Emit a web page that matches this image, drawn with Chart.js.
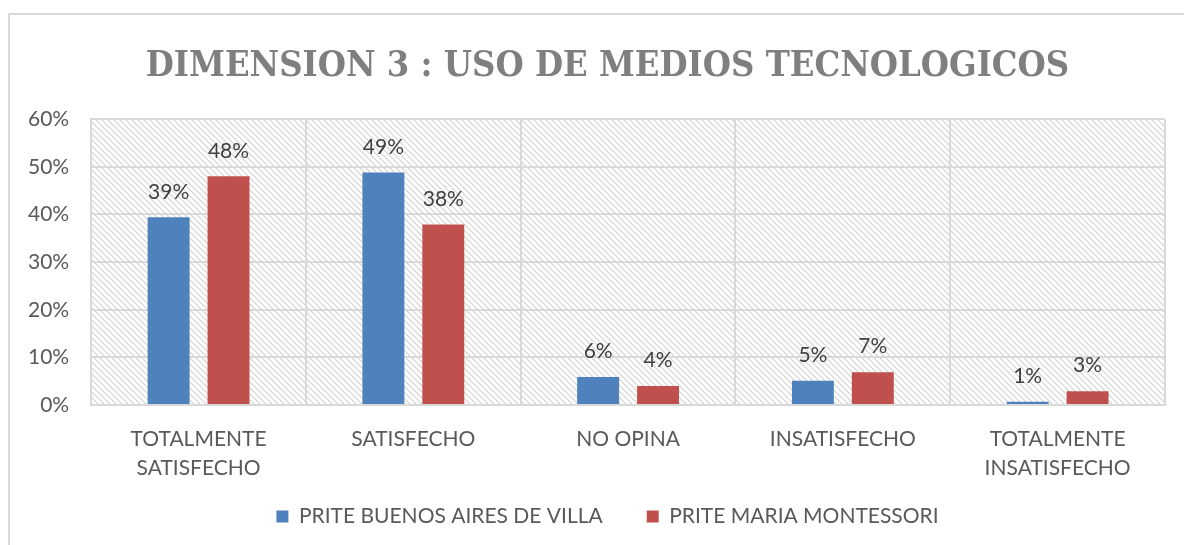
<!DOCTYPE html>
<html>
<head>
<meta charset="utf-8">
<script src="https://cdn.jsdelivr.net/npm/chart.js@4"></script>
<style>
  body { margin: 0; background: #fff; }
  #wrap { width: 1184px; height: 545px; }
</style>
</head>
<body>
<div id="wrap"><canvas id="myChart" width="1184" height="545"></canvas></div>
<script>
// datos del grafico
var categorias = [
  ["TOTALMENTE", "SATISFECHO"],
  "SATISFECHO",
  "NO OPINA",
  "INSATISFECHO",
  ["TOTALMENTE", "INSATISFECHO"]
];
var buenos_aires = [39.4, 48.8, 5.9, 5.1, 0.7];
var montessori = [48, 37.9, 4, 6.9, 2.9];
var etiquetas_buenos_aires = ["39%", "49%", "6%", "5%", "1%"];
var etiquetas_montessori = ["48%", "38%", "4%", "7%", "3%"];
var serie_nombres = ["PRITE BUENOS AIRES DE VILLA", "PRITE MARIA MONTESSORI"];

var gris = "#595959";
var fuente = "Lato, 'Open Sans', sans-serif";

// patron rayado del fondo
function patronRayado(ctx) {
  var n = 6;
  var t = document.createElement("canvas");
  t.width = n; t.height = n;
  var c = t.getContext("2d");
  c.fillStyle = "#ffffff";
  c.fillRect(0, 0, n, n);
  c.strokeStyle = "#d3d3d3";
  c.lineWidth = 1.2;
  c.beginPath();
  c.moveTo(-1, -1); c.lineTo(n + 1, n + 1);
  c.moveTo(-1, n - 1); c.lineTo(1, n + 1);
  c.moveTo(n - 1, -1); c.lineTo(n + 1, 1);
  c.stroke();
  return ctx.createPattern(t, "repeat");
}

var fondo = {
  id: "fondo",
  beforeDraw: function (chart) {
    var ctx = chart.ctx, a = chart.chartArea;
    ctx.save();
    ctx.fillStyle = "#fff";
    ctx.fillRect(0, 0, chart.width, chart.height);
    ctx.strokeStyle = "#d9d9d9";
    ctx.lineWidth = 2;
    ctx.strokeRect(9, 14, chart.width + 20, chart.height + 20);
    ctx.fillStyle = patronRayado(ctx);
    ctx.fillRect(a.left, a.top, a.right - a.left, a.bottom - a.top);
    ctx.restore();
  }
};

var etiquetas = {
  id: "etiquetas",
  afterDatasetsDraw: function (chart) {
    var ctx = chart.ctx;
    var textos = [etiquetas_buenos_aires, etiquetas_montessori];
    ctx.save();
    ctx.font = "21px " + fuente;
    ctx.fillStyle = "#404040";
    ctx.textAlign = "center";
    ctx.textBaseline = "bottom";
    chart.data.datasets.forEach(function (ds, i) {
      chart.getDatasetMeta(i).data.forEach(function (bar, j) {
        ctx.fillText(textos[i][j], bar.x, bar.y - 15);
      });
    });
    ctx.restore();
  }
};

// la leyenda usa padding grande para separar items, pero se recorta en alto;
// titulo y leyenda se centran un poco a la derecha, como en el original
var ajusteCajas = {
  id: "ajusteCajas",
  beforeLayout: function (chart) {
    var lg = chart.legend, tt = chart.titleBlock;
    if (lg && !lg._ajustada) {
      lg._ajustada = true;
      var fit = lg.fit, draw = lg.draw;
      lg.fit = function () { fit.call(this); this.height -= 39; };
      lg.draw = function () {
        this.top -= 41; this.left += 22; this.right += 22;
        draw.call(this);
        this.top += 41; this.left -= 22; this.right -= 22;
      };
    }
    if (tt && !tt._ajustada) {
      tt._ajustada = true;
      var drawT = tt.draw;
      tt.draw = function () {
        this.left += 22; this.right += 22;
        drawT.call(this);
        this.left -= 22; this.right -= 22;
      };
    }
  }
};

var ctx = document.getElementById("myChart");
var myChart = new Chart(ctx, {
  type: "bar",
  data: {
    labels: categorias,
    datasets: [
      {
        label: serie_nombres[0],
        data: buenos_aires,
        backgroundColor: "#4f81bd",
        categoryPercentage: 0.558,
        barPercentage: 0.7
      },
      {
        label: serie_nombres[1],
        data: montessori,
        backgroundColor: "#c0504d",
        categoryPercentage: 0.558,
        barPercentage: 0.7
      }
    ]
  },
  options: {
    responsive: false,
    animation: false,
    layout: { padding: { left: 6, right: 19, top: 20, bottom: 6 } },
    plugins: {
      title: {
        display: true,
        text: "DIMENSION 3 : USO DE MEDIOS TECNOLOGICOS",
        color: "#7f7f7f",
        font: { family: "'DejaVu Serif Condensed', 'DejaVu Serif', serif", size: 36, weight: "bold" },
        padding: { top: 25, bottom: 31 }
      },
      legend: {
        position: "bottom",
        labels: {
          color: gris,
          font: { family: fuente, size: 21 },
          boxWidth: 12,
          boxHeight: 12,
          padding: 44
        }
      },
      tooltip: { enabled: false }
    },
    scales: {
      x: {
        grid: { color: "#d9d9d9", lineWidth: 2, drawTicks: false },
        border: { color: "#d9d9d9", width: 2 },
        ticks: {
          color: gris,
          font: { family: fuente, size: 21, lineHeight: 1.38 },
          padding: 20
        }
      },
      y: {
        min: 0,
        max: 60,
        grid: { color: "#d9d9d9", lineWidth: 2, drawTicks: false },
        border: { color: "#d9d9d9", width: 2 },
        ticks: {
          stepSize: 10,
          color: gris,
          font: { family: fuente, size: 21 },
          padding: 22,
          callback: function (v) { return v + "%"; }
        }
      }
    }
  },
  plugins: [fondo, etiquetas, ajusteCajas]
});
</script>
</body>
</html>
